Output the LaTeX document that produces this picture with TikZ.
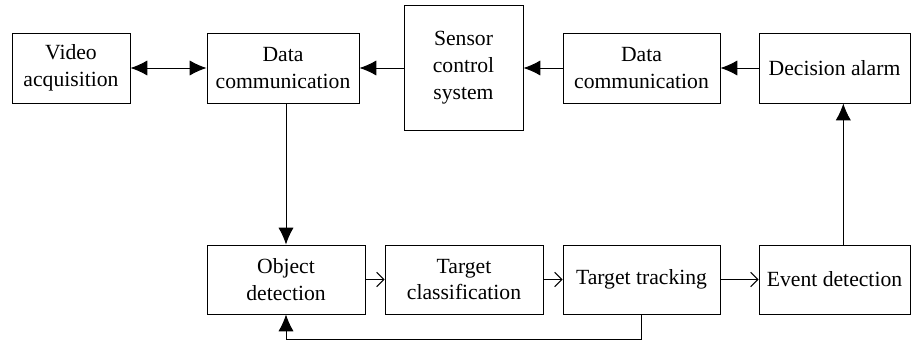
\documentclass[tikz,border=0pt]{standalone}
\usepackage{fontspec}
\setmainfont{Liberation Serif}
\usetikzlibrary{arrows.meta}

\begin{document}
\begin{tikzpicture}[>={Latex[length=4.2mm,width=3.8mm]}, line width=0.7pt,
    box/.style={draw, align=center, minimum height=1.75cm, inner sep=2pt,
        font=\fontsize{15.4}{19}\selectfont},
    openarr/.style={-{Straight Barb[length=1.8mm,width=3.6mm]}}]
    \useasboundingbox (0,0) rectangle (22.775,8.625);

    % upper row
    \node[box, minimum width=2.95cm] (video) at (1.775,6.925) {Video\\acquisition};
    \node[box, minimum width=3.8cm] (comA) at (7.075,6.925) {Data\\communication};
    \node[box, minimum width=2.975cm, minimum height=3.125cm] (sensor) at (11.5875,6.9375) {Sensor\\control\\system};
    \node[box, minimum width=3.925cm] (comB) at (16.0375,6.925) {Data\\communication};
    \node[box, minimum width=3.775cm] (alarm) at (20.8625,6.925) {Decision alarm};

    % lower row
    \node[box, minimum width=3.95cm, minimum height=1.725cm] (objdet) at (7.15,1.6375) {Object\\detection};
    \node[box, minimum width=3.95cm, minimum height=1.725cm] (classif) at (11.6,1.6375) {Target\\classification};
    \node[box, minimum width=3.925cm, minimum height=1.725cm] (track) at (16.0375,1.6375) {Target tracking};
    \node[box, minimum width=3.775cm, minimum height=1.725cm] (event) at (20.8625,1.6375) {Event detection};

    \draw[<->] (video) -- (comA);
    \draw[->] (sensor.west |- comA) -- (comA);
    \draw[->] (comB) -- (sensor.east |- comB);
    \draw[->] (alarm) -- (comB);
    \draw[->] (comA.south -| objdet.north) -- (objdet.north);

    \draw[openarr] (objdet) -- (classif);
    \draw[openarr] (classif) -- (track);
    \draw[openarr] (track) -- (event);

    % feedback from tracking
    \draw[->] (track.south) -- ++(0,-0.625) -| (objdet.south);
    \draw[->] ([xshift=2.2mm]event.north) -- ([xshift=2.2mm]alarm.south);
\end{tikzpicture}
\end{document}
